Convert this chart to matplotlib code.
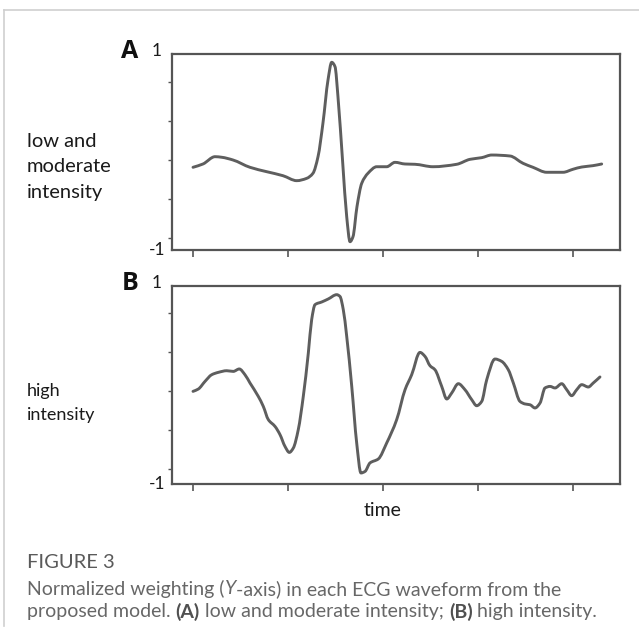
import matplotlib
matplotlib.use("Agg")
import numpy as np
import matplotlib.pyplot as plt
from matplotlib.lines import Line2D
from matplotlib.path import Path
from matplotlib.patches import PathPatch

W, H = 639, 634

# ---------------- data ----------------
time_ticks = [0, 1, 2, 3, 4]
ytick_vals = [-1, -0.6, -0.2, 0.2, 0.6]

a_time = [0.0, 0.105, 0.232, 0.302, 0.421, 0.600, 0.776, 0.947, 1.092, 1.197,
          1.263, 1.316, 1.368, 1.421, 1.460, 1.495, 1.526, 1.576, 1.618, 1.653,
          1.684, 1.726, 1.776, 1.842, 1.934, 2.039, 2.126, 2.232, 2.337, 2.526,
          2.776, 2.916, 3.039, 3.144, 3.337, 3.474, 3.579, 3.723, 3.895, 4.000,
          4.092, 4.211, 4.302]
a_weight = [-0.275, -0.241, -0.166, -0.172, -0.200, -0.275, -0.320, -0.361, -0.412, -0.388,
            -0.336, -0.166, 0.179, 0.620, 0.802, 0.757, 0.449, -0.231, -0.782, -1.038,
            -0.987, -0.679, -0.439, -0.336, -0.269, -0.269, -0.224, -0.241, -0.244, -0.269,
            -0.244, -0.193, -0.176, -0.149, -0.159, -0.234, -0.275, -0.326, -0.326, -0.295,
            -0.272, -0.258, -0.241]

b_time = [0.0, 0.056, 0.126, 0.197, 0.266, 0.355, 0.424, 0.487, 0.547, 0.600,
          0.687, 0.740, 0.793, 0.863, 0.916, 0.968, 1.014, 1.056, 1.108, 1.161,
          1.214, 1.249, 1.284, 1.355, 1.424, 1.513, 1.547, 1.582, 1.618, 1.671,
          1.723, 1.768, 1.811, 1.863, 1.951, 2.039, 2.144, 2.232, 2.302, 2.389,
          2.442, 2.495, 2.547, 2.618, 2.671, 2.723, 2.793, 2.863, 2.934, 2.986,
          3.039, 3.092, 3.179, 3.249, 3.319, 3.372, 3.442, 3.495, 3.547, 3.600,
          3.653, 3.705, 3.758, 3.811, 3.881, 3.934, 3.986, 4.039, 4.092, 4.161,
          4.213, 4.284]
b_weight = [-0.204, -0.180, -0.102, -0.033, -0.009, 0.008, 0.001, 0.026, -0.033, -0.118,
            -0.255, -0.358, -0.494, -0.563, -0.648, -0.768, -0.830, -0.785, -0.597, -0.255,
            0.190, 0.531, 0.685, 0.713, 0.744, 0.788, 0.770, 0.634, 0.360, -0.153,
            -0.733, -1.041, -1.025, -0.938, -0.897, -0.733, -0.494, -0.187, -0.033, 0.196,
            0.155, 0.059, 0.018, -0.153, -0.282, -0.221, -0.125, -0.187, -0.289, -0.351,
            -0.307, -0.084, 0.128, 0.104, 0.018, -0.118, -0.307, -0.333, -0.341, -0.374,
            -0.323, -0.169, -0.153, -0.169, -0.125, -0.187, -0.248, -0.187, -0.135, -0.159,
            -0.118, -0.056]

panel_letters = ["A", "B"]
panel_labels = ["low and\nmoderate\nintensity", "high\nintensity"]
x_label = "time"
caption_title = "FIGURE 3"
caption_line1 = [("Normalized weighting (", False), ("Y", "italic"), ("-axis) in each ECG waveform from the", False)]
caption_line2 = [("proposed model. ", False), ("(A)", True), (" low and moderate intensity; ", False),
                 ("(B)", True), (" high intensity.", False)]

# ---------------- figure ----------------
fig = plt.figure(figsize=(W / 100, H / 100), dpi=100)
fig.patch.set_facecolor("white")


def fx(px):
    return px / W


def fy(py):
    return 1 - py / H


def smooth_path(x, y):
    """Smooth (monotone Hermite) bezier path through the given points."""
    x = np.asarray(x, float)
    y = np.asarray(y, float)
    h = np.diff(x)
    d = np.diff(y) / h
    m = np.zeros_like(y)
    for k in range(1, len(y) - 1):
        if d[k - 1] * d[k] > 0:
            w1 = 2 * h[k] + h[k - 1]
            w2 = h[k] + 2 * h[k - 1]
            m[k] = (w1 + w2) / (w1 / d[k - 1] + w2 / d[k])
    m[0], m[-1] = d[0], d[-1]
    verts = [(x[0], y[0])]
    codes = [Path.MOVETO]
    for k in range(len(h)):
        verts += [(x[k] + h[k] / 3, y[k] + m[k] * h[k] / 3),
                  (x[k + 1] - h[k] / 3, y[k + 1] - m[k + 1] * h[k] / 3),
                  (x[k + 1], y[k + 1])]
        codes += [Path.CURVE4] * 3
    return Path(verts, codes)


# light frame lines (top and left)
fig.add_artist(Line2D([fx(4), fx(639)], [fy(9.5), fy(9.5)], color="#cfcfcf", lw=1.2))
fig.add_artist(Line2D([fx(4), fx(4)], [fy(9.5), fy(626)], color="#cfcfcf", lw=1.2))

line_col = "#5e5e5e"
spine_col = "#555555"
chart_font = ["Lato", "DejaVu Sans"]
label_col = "#1a1a1a"

panels = [
    dict(box=(172, 620, 54, 250), ylim=(-1.123, 0.887), t=a_time, w=a_weight),
    dict(box=(172, 620, 286, 484), ylim=(-1.154, 0.877), t=b_time, w=b_weight),
]

x_min, x_max = (172 - 193) / 95, (620 - 193) / 95

for i, p in enumerate(panels):
    l, r, t, b = p["box"]
    ax = fig.add_axes([fx(l), fy(b), (r - l) / W, (b - t) / H])
    ax.add_patch(PathPatch(smooth_path(p["t"], p["w"]), facecolor="none", edgecolor=line_col,
                           lw=2.1, joinstyle="round", capstyle="round"))
    ax.set_xlim(x_min, x_max)
    ax.set_ylim(*p["ylim"])
    ax.set_xticks(time_ticks)
    ax.set_xticklabels([])
    ax.set_yticks(ytick_vals)
    ax.set_yticklabels([])
    ax.tick_params(axis="x", direction="out", length=5, width=1.2, color=spine_col)
    ax.tick_params(axis="y", direction="out", length=3, width=1.0, color=spine_col)
    for s in ax.spines.values():
        s.set_color(spine_col)
        s.set_linewidth(1.6)
    # y-axis end labels
    fig.text(fx(162), fy(t - 3), "1", ha="right", va="center", fontsize=12.5, family=chart_font, color=label_col)
    fig.text(fx(165), fy(b), "-1", ha="right", va="center", fontsize=12.5, family=chart_font, color=label_col)
    # panel letter
    fig.text(fx(130), fy(t - 3), panel_letters[i], ha="center", va="center", fontsize=18,
             fontweight="bold", family=["Open Sans", "DejaVu Sans"], color="#111111")

# side labels
fig.text(fx(27), fy(167), panel_labels[0], ha="left", va="center", fontsize=14.5,
         family=chart_font, color=label_col, linespacing=1.62)
fig.text(fx(27), fy(403), panel_labels[1], ha="left", va="center", fontsize=13,
         family=chart_font, color=label_col, linespacing=1.58)

# x label
fig.text(fx(383), fy(511), x_label, ha="center", va="center", fontsize=14,
         family=chart_font, color=label_col)

# caption
cap_font = ["Lato", "DejaVu Sans"]
cap_col = "#676767"
fig.text(fx(27), fy(563), caption_title, ha="left", va="center", fontsize=14.5,
         family=cap_font, color="#5a5a5a")

fig.canvas.draw()
renderer = fig.canvas.get_renderer()


def draw_segments(segments, x0, ypix, size):
    x = x0
    for txt, style in segments:
        kw = dict(fontsize=size, family=cap_font, color=cap_col, ha="left", va="center")
        if style is True:
            kw["fontweight"] = "bold"
            kw["color"] = "#505050"
        elif style == "italic":
            kw["fontstyle"] = "italic"
        tt = fig.text(fx(x), fy(ypix), txt, **kw)
        bb = tt.get_window_extent(renderer=renderer)
        x += bb.width


draw_segments(caption_line1, 27, 589, 14.0)
draw_segments(caption_line2, 27, 612, 14.0)

fig.savefig("out.png", dpi=100, facecolor="white")
